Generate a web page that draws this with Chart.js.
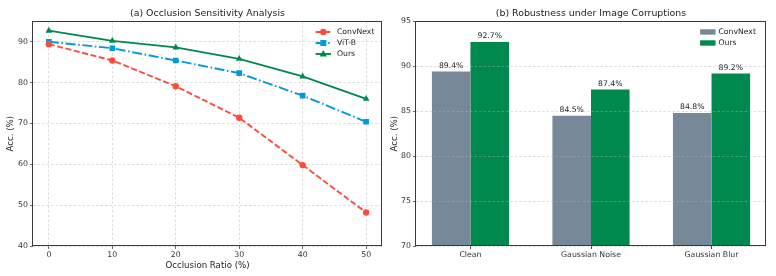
<!DOCTYPE html>
<html>
<head>
<meta charset="utf-8">
<script src="https://cdn.jsdelivr.net/npm/chart.js@4.4.0/dist/chart.umd.min.js"></script>
<style>
html, body { margin: 0; padding: 0; background: #fff; }
#wrap { position: relative; width: 776px; height: 276px; }
canvas { position: absolute; top: 0; }
</style>
</head>
<body>
<div id="wrap">
  <canvas id="lineChart" width="388" height="276" style="left:0"></canvas>
  <canvas id="barChart" width="388" height="276" style="left:388px"></canvas>
</div>
<script>
// (a) occlusion sensitivity
const occlusion = [0, 10, 20, 30, 40, 50];
const convnextOcc = [89.4, 85.4, 79.1, 71.4, 59.8, 48.2];
const vitOcc = [90.0, 88.4, 85.4, 82.3, 76.8, 70.4];
const oursOcc = [92.7, 90.2, 88.6, 85.8, 81.5, 76.0];
const occYTicks = [40, 50, 60, 70, 80, 90];

// (b) corruptions
const corruptions = ['Clean', 'Gaussian Noise', 'Gaussian Blur'];
const convnextCorr = [89.4, 84.5, 84.8];
const oursCorr = [92.7, 87.4, 89.2];
const corrYTicks = [70, 75, 80, 85, 90, 95];

const FONT = 'DejaVu Sans';
const RED = '#FF4B3A', BLUE = '#0099DD', GREEN = '#00894F', GRAY = '#778899';
const gridColor = 'rgba(176,176,176,0.55)';

const frame = {
  id: 'frame',
  afterDraw(chart) {
    const {ctx, chartArea: a} = chart;
    ctx.save();
    ctx.strokeStyle = '#3a3a3a';
    ctx.lineWidth = 1;
    ctx.setLineDash([]);
    ctx.strokeRect(Math.round(a.left) - 0.5, Math.round(a.top) + 0.5,
      Math.round(a.right - a.left), Math.round(a.bottom - a.top) - 1);
    ctx.restore();
  }
};

function marker(ctx, style, x, y, r) {
  ctx.beginPath();
  if (style === 'circle') {
    ctx.arc(x, y, r, 0, Math.PI * 2);
  } else if (style === 'rect') {
    ctx.rect(x - r * 0.75, y - r * 0.75, r * 1.5, r * 1.5);
  } else {
    ctx.moveTo(x, y - r);
    ctx.lineTo(x + r * 0.95, y + r * 0.65);
    ctx.lineTo(x - r * 0.95, y + r * 0.65);
    ctx.closePath();
  }
  ctx.fill();
}

const lineLegend = {
  id: 'lineLegend',
  afterDraw(chart) {
    const {ctx, chartArea: a} = chart;
    const tx = a.right - 45, hx1 = tx - 6, hx0 = hx1 - 15.4;
    chart.data.datasets.forEach((ds, i) => {
      const y = a.top + 10.7 + i * 11;
      ctx.save();
      ctx.strokeStyle = ds.borderColor;
      ctx.fillStyle = ds.borderColor;
      ctx.lineWidth = ds.borderWidth;
      ctx.setLineDash(ds.borderDash || []);
      ctx.beginPath();
      ctx.moveTo(hx0, y);
      ctx.lineTo(hx1, y);
      ctx.stroke();
      ctx.setLineDash([]);
      marker(ctx, ds.pointStyle, (hx0 + hx1) / 2, y, ds.pointRadius);
      ctx.fillStyle = '#222';
      ctx.font = '7.7px "' + FONT + '"';
      ctx.textBaseline = 'middle';
      ctx.textAlign = 'left';
      ctx.fillText(ds.label, tx, y + 0.5);
      ctx.restore();
    });
  }
};

const barLegend = {
  id: 'barLegend',
  afterDraw(chart) {
    const {ctx, chartArea: a} = chart;
    const tx = a.right - 47.5, px1 = tx - 3, px0 = px1 - 15.4;
    chart.data.datasets.forEach((ds, i) => {
      const y = a.top + 10.7 + i * 11;
      ctx.save();
      ctx.fillStyle = ds.backgroundColor;
      ctx.fillRect(px0, y - 2.7, px1 - px0, 5.4);
      ctx.fillStyle = '#222';
      ctx.font = '7.7px "' + FONT + '"';
      ctx.textBaseline = 'middle';
      ctx.textAlign = 'left';
      ctx.fillText(ds.label, tx, y + 0.5);
      ctx.restore();
    });
  }
};

const barValues = {
  id: 'barValues',
  afterDatasetsDraw(chart) {
    const ctx = chart.ctx;
    ctx.save();
    ctx.fillStyle = '#222';
    ctx.font = '7.7px "' + FONT + '"';
    ctx.textAlign = 'center';
    ctx.textBaseline = 'bottom';
    chart.data.datasets.forEach((ds, i) => {
      chart.getDatasetMeta(i).data.forEach((bar, j) => {
        ctx.fillText(ds.data[j].y.toFixed(1) + '%', bar.x, bar.y - 2);
      });
    });
    ctx.restore();
  }
};

const tickFont = {family: FONT, size: 7.8};
const labelFont = {family: FONT, size: 8.6};
const titleFont = {family: FONT, size: 9.4, weight: 'normal'};

function pts(xs, ys) {
  return xs.map((x, i) => ({x: x, y: ys[i]}));
}

new Chart(document.getElementById('lineChart'), {
  type: 'line',
  data: {
    datasets: [
      {label: 'ConvNext', data: pts(occlusion, convnextOcc), borderColor: RED, backgroundColor: RED,
       borderWidth: 1.9, borderDash: [6, 2.6], pointStyle: 'circle', pointRadius: 3.2, pointBorderWidth: 0},
      {label: 'ViT-B', data: pts(occlusion, vitOcc), borderColor: BLUE, backgroundColor: BLUE,
       borderWidth: 1.9, borderDash: [10, 2.6, 1.6, 2.6], pointStyle: 'rect', pointRadius: 4, pointBorderWidth: 0},
      {label: 'Ours', data: pts(occlusion, oursOcc), borderColor: GREEN, backgroundColor: GREEN,
       borderWidth: 1.9, pointStyle: 'triangle', pointRadius: 3.9, pointBorderWidth: 0}
    ]
  },
  options: {
    responsive: false,
    animation: false,
    layout: {padding: {right: 6}},
    plugins: {
      legend: {display: false},
      tooltip: {enabled: false},
      title: {display: true, fullSize: false, text: '(a) Occlusion Sensitivity Analysis', font: titleFont,
              color: '#222', padding: {top: 8, bottom: 2}}
    },
    scales: {
      x: {
        type: 'linear', min: -2.5, max: 52.5,
        afterBuildTicks: s => { s.ticks = occlusion.map(v => ({value: v})); },
        afterFit: s => { s.height = 30; },
        ticks: {font: tickFont, color: '#333', padding: 1, maxRotation: 0},
        title: {display: true, text: 'Occlusion Ratio (%)', font: labelFont, color: '#222', padding: {top: 0, bottom: 5}},
        grid: {color: gridColor, lineWidth: 0.8, tickLength: 3, tickColor: '#444', tickBorderDash: []},
        border: {display: false, dash: [2.5, 2]}
      },
      y: {
        min: 40, max: 95,
        afterBuildTicks: s => { s.ticks = occYTicks.map(v => ({value: v})); },
        afterFit: s => { s.width = 33; },
        ticks: {font: tickFont, color: '#333', padding: 2},
        title: {display: true, text: 'Acc. (%)', font: labelFont, color: '#222', padding: {top: 6, bottom: 0}},
        grid: {color: gridColor, lineWidth: 0.8, tickLength: 3, tickColor: '#444', tickBorderDash: []},
        border: {display: false, dash: [2.5, 2]}
      }
    }
  },
  plugins: [frame, lineLegend]
});

new Chart(document.getElementById('barChart'), {
  type: 'bar',
  data: {
    datasets: [
      {label: 'ConvNext', data: pts([0, 1, 2], convnextCorr), backgroundColor: GRAY},
      {label: 'Ours', data: pts([0, 1, 2], oursCorr), backgroundColor: GREEN}
    ]
  },
  options: {
    responsive: false,
    animation: false,
    categoryPercentage: 0.64,
    barPercentage: 1,
    layout: {padding: {right: 10}},
    plugins: {
      legend: {display: false},
      tooltip: {enabled: false},
      title: {display: true, fullSize: false, text: '(b) Robustness under Image Corruptions', font: titleFont,
              color: '#222', padding: {top: 8, bottom: 2}}
    },
    scales: {
      x: {
        type: 'linear', min: -0.452, max: 2.452, offset: false,
        afterBuildTicks: s => { s.ticks = [0, 1, 2].map(v => ({value: v})); },
        afterFit: s => { s.height = 30; },
        ticks: {font: tickFont, color: '#333', padding: 1, maxRotation: 0, callback: v => corruptions[v]},
        grid: {offset: false, drawOnChartArea: false, tickLength: 3, tickColor: '#444'},
        border: {display: false}
      },
      y: {
        min: 70, max: 95,
        afterBuildTicks: s => { s.ticks = corrYTicks.map(v => ({value: v})); },
        afterFit: s => { s.width = 28; },
        ticks: {font: tickFont, color: '#333', padding: 2},
        title: {display: true, text: 'Acc. (%)', font: labelFont, color: '#222', padding: {top: 2, bottom: 0}},
        grid: {color: gridColor, lineWidth: 0.8, tickLength: 3, tickColor: '#444', tickBorderDash: [], z: 1},
        border: {display: false, dash: [2.5, 2]}
      }
    }
  },
  plugins: [frame, barLegend, barValues]
});
</script>
</body>
</html>
